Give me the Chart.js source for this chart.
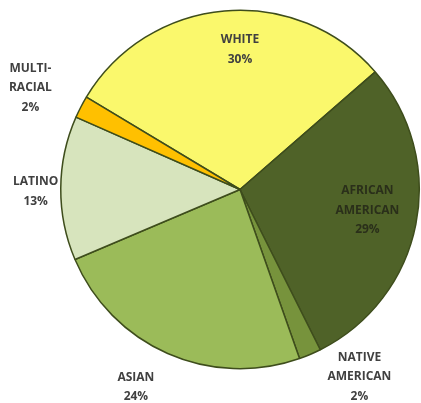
<!DOCTYPE html>
<html>
<head>
<meta charset="utf-8">
<script src="https://cdn.jsdelivr.net/npm/chart.js@4"></script>
<style>
  html, body { margin: 0; padding: 0; background: #fff; }
  #wrap { width: 421px; height: 403px; }
</style>
</head>
<body>
<div id="wrap"><canvas id="myChart" width="421" height="403"></canvas></div>
<script>
// 데이터 (비율 %)
const groups = [['WHITE'], ['AFRICAN', 'AMERICAN'], ['NATIVE', 'AMERICAN'], ['ASIAN'], ['LATINO'], ['MULTI-', 'RACIAL']];
const shares = [30, 29, 2, 24, 13, 2];
const colors = ['#FAF86C', '#4F6228', '#77933C', '#9BBB59', '#D7E4BD', '#FFC000'];

// 라벨 위치: [반지름 배율, 각도 보정(도)]
const labelPlace = [[0.78, 5], [0.72, -2], [1.24, -9.5], [1.245, 4], [1.14, -1], [1.30, -1.5]];

const sliceLabels = {
  id: 'sliceLabels',
  afterDraw(chart) {
    const c = chart.ctx;
    const arcs = chart.getDatasetMeta(0).data;
    c.save();
    c.font = 'bold 12px "Open Sans", sans-serif';
    c.textAlign = 'center';
    c.textBaseline = 'middle';
    arcs.forEach((arc, i) => {
      const mid = (arc.startAngle + arc.endAngle) / 2 + labelPlace[i][1] * Math.PI / 180;
      const r = arc.outerRadius * labelPlace[i][0];
      const x = arc.x + Math.cos(mid) * r;
      const y = arc.y + Math.sin(mid) * r;
      const lines = groups[i].concat([shares[i] + '%']);
      const lh = 19.5;
      c.fillStyle = i === 1 ? '#2a2f1a' : '#404040';
      lines.forEach((t, j) => {
        c.fillText(t, x, y + (j - (lines.length - 1) / 2) * lh);
      });
    });
    c.restore();
  }
};

const ctx = document.getElementById('myChart');
new Chart(ctx, {
  type: 'pie',
  data: {
    labels: groups.map(g => g.join(' ')),
    datasets: [{
      data: shares,
      backgroundColor: colors,
      borderColor: '#3E4D1C',
      borderWidth: 1.5
    }]
  },
  options: {
    responsive: false,
    animation: false,
    rotation: -59,
    layout: { padding: { left: 60, right: 1, top: 9, bottom: 33 } },
    plugins: {
      legend: { display: false },
      tooltip: { enabled: false }
    }
  },
  plugins: [sliceLabels]
});
</script>
</body>
</html>
